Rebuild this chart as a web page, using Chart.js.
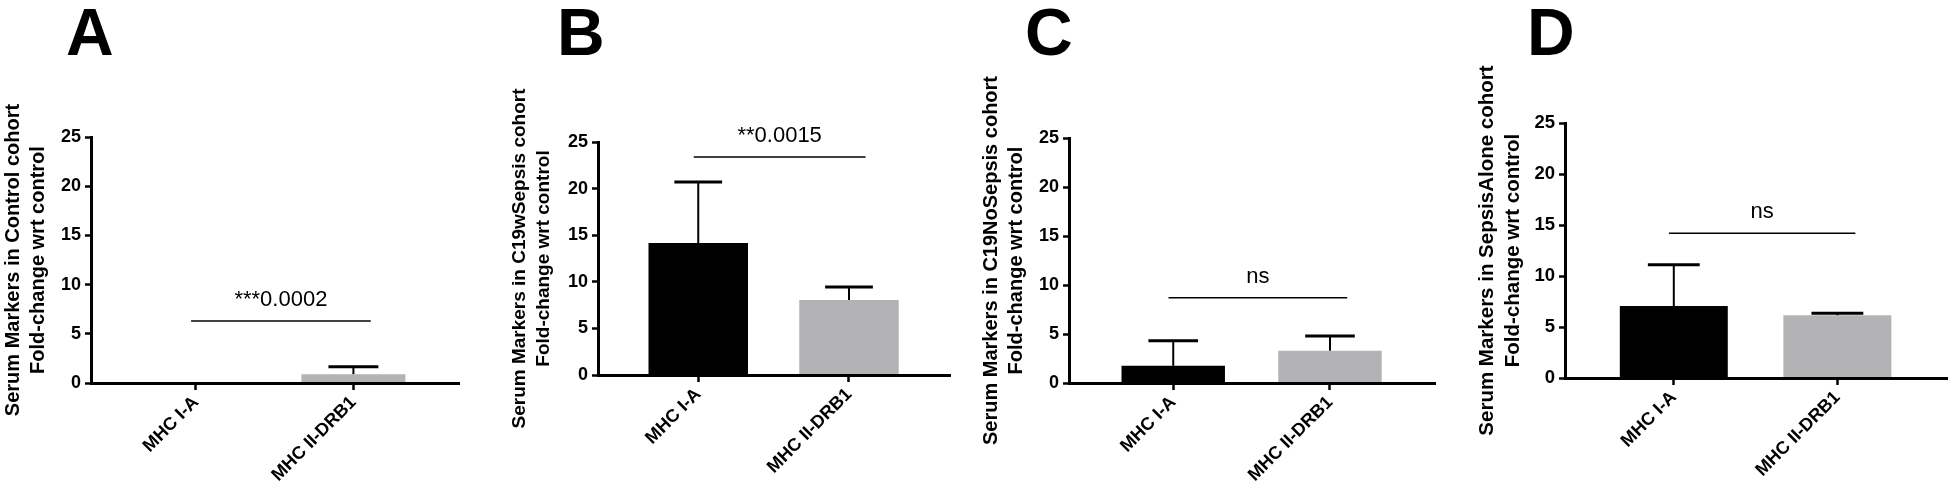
<!DOCTYPE html>
<html>
<head>
<meta charset="utf-8">
<title>Serum MHC markers by cohort</title>
<script src="https://cdn.jsdelivr.net/npm/chart.js@4.4.1/dist/chart.umd.min.js"></script>
<style>
  body { margin: 0; background: #fff; }
  #figure { position: relative; width: 1949px; height: 494px; }
  #figure canvas { position: absolute; left: 0; top: 0; }
</style>
</head>
<body>
<div id="figure">
  <canvas id="panelA" width="1949" height="494"></canvas>
  <canvas id="panelB" width="1949" height="494"></canvas>
  <canvas id="panelC" width="1949" height="494"></canvas>
  <canvas id="panelD" width="1949" height="494"></canvas>
</div>
<script>
// --- Values ---
const categories = ['MHC I-A', 'MHC II-DRB1'];
const panelLetters = ['A', 'B', 'C', 'D'];
const cohortTitles = [
    'Serum Markers in Control cohort',
    'Serum Markers in C19wSepsis cohort',
    'Serum Markers in C19NoSepsis cohort',
    'Serum Markers in SepsisAlone cohort'
];
const yTitleSecondLine = 'Fold-change wrt control';
const yTicks = [0, 5, 10, 15, 20, 25];

// mean fold-change and upper SD whisker for each category
const controlMeans = [0.05, 0.9];
const controlSD = [0, 0.75];
const c19wSepsisMeans = [14.15, 8.05];
const c19wSepsisSD = [6.55, 1.4];
const c19NoSepsisMeans = [1.75, 3.3];
const c19NoSepsisSD = [2.55, 1.5];
const sepsisAloneMeans = [7.05, 6.15];
const sepsisAloneSD = [4.05, 0.2];

// significance brackets
const sigLabels = ['***0.0002', '**0.0015', 'ns', 'ns'];
const sigHeights = [6.3, 23.4, 8.7, 14.2];

const allMeans = [controlMeans, c19wSepsisMeans, c19NoSepsisMeans, sepsisAloneMeans];
const allSD = [controlSD, c19wSepsisSD, c19NoSepsisSD, sepsisAloneSD];

// --- Where each panel sits on the page (pixels) ---
const panelBoxes = [
    { left: 91, top: 137, right: 459, bottom: 383, letterX: 66, titleSize: 20, tickSize: 18 },
    { left: 598, top: 142, right: 950, bottom: 375, letterX: 557, titleSize: 19, tickSize: 18 },
    { left: 1069, top: 138, right: 1435, bottom: 383, letterX: 1025, titleSize: 20, tickSize: 18 },
    { left: 1565, top: 123, right: 1947, bottom: 378, letterX: 1527, titleSize: 20.5, tickSize: 18.5 }
];

const FONT = '"Liberation Sans", Arial, Helvetica, sans-serif';
const PAGE_W = 1949, PAGE_H = 494;
const barColors = ['#000000', '#b3b3b6'];

// draws error whiskers, the significance line and the panel letter
const panelExtras = {
    id: 'panelExtras',
    afterDatasetsDraw(chart, args, opts) {
        const ctx = chart.ctx;
        const xScale = chart.scales.x;
        const yScale = chart.scales.y;
        const bars = chart.getDatasetMeta(0).data;
        ctx.save();
        ctx.strokeStyle = '#000';
        ctx.fillStyle = '#000';

        bars.forEach((bar, i) => {
            const sd = opts.sd[i];
            if (!sd) return;
            const yTop = yScale.getPixelForValue(opts.means[i] + sd);
            const half = bar.width * 0.24;
            ctx.lineWidth = 2;
            ctx.beginPath();
            ctx.moveTo(bar.x, bar.y);
            ctx.lineTo(bar.x, yTop);
            ctx.stroke();
            ctx.lineWidth = 3;
            ctx.beginPath();
            ctx.moveTo(bar.x - half, yTop);
            ctx.lineTo(bar.x + half, yTop);
            ctx.stroke();
        });

        const sy = yScale.getPixelForValue(opts.sigHeight);
        const x1 = xScale.getPixelForValue(-0.03);
        const x2 = xScale.getPixelForValue(1.11);
        ctx.lineWidth = 1.5;
        ctx.beginPath();
        ctx.moveTo(x1, sy);
        ctx.lineTo(x2, sy);
        ctx.stroke();
        ctx.font = '22px ' + FONT;
        ctx.textAlign = 'center';
        ctx.textBaseline = 'alphabetic';
        ctx.fillText(opts.sigLabel, (x1 + x2) / 2, sy - 15);

        ctx.font = 'bold 66px ' + FONT;
        ctx.textAlign = 'left';
        ctx.fillText(opts.letter, opts.letterX, 55);
        ctx.restore();
    }
};

panelLetters.forEach((letter, p) => {
    const box = panelBoxes[p];
    const means = allMeans[p];
    const canvas = document.getElementById('panel' + letter);

    new Chart(canvas, {
        type: 'bar',
        data: {
            datasets: [{
                data: means.map((m, i) => ({ x: i, y: m })),
                backgroundColor: barColors,
                borderWidth: 0,
                barPercentage: 0.66,
                categoryPercentage: 1
            }]
        },
        options: {
            responsive: false,
            animation: false,
            devicePixelRatio: 1,
            layout: {
                padding: { left: box.left - 90, top: box.top, right: PAGE_W - box.right, bottom: 0 }
            },
            scales: {
                x: {
                    type: 'linear',
                    min: -0.665,
                    max: 1.67,
                    offset: false,
                    bounds: 'data',
                    afterBuildTicks: (axis) => { axis.ticks = categories.map((c, i) => ({ value: i })); },
                    afterFit: (axis) => { axis.height = PAGE_H - box.bottom; },
                    grid: { offset: false, drawOnChartArea: false, drawTicks: true, tickLength: 7, tickWidth: 2.5, tickColor: '#000' },
                    border: { display: true, color: '#000', width: 3, z: 1 },
                    ticks: {
                        autoSkip: false,
                        minRotation: 45,
                        maxRotation: 45,
                        padding: 2,
                        color: '#000',
                        font: { family: FONT, size: 18, weight: 'bold' },
                        callback: (value) => categories[value]
                    }
                },
                y: {
                    min: yTicks[0],
                    max: yTicks[yTicks.length - 1],
                    afterBuildTicks: (axis) => { axis.ticks = yTicks.map(v => ({ value: v })); },
                    afterFit: (axis) => { axis.width = 90; },
                    grid: { drawOnChartArea: false, drawTicks: true, tickLength: 6, tickWidth: 2.5, tickColor: '#000' },
                    border: { display: true, color: '#000', width: 3, z: 1 },
                    ticks: {
                        padding: 4,
                        color: '#000',
                        font: { family: FONT, size: box.tickSize, weight: 'bold' }
                    },
                    title: {
                        display: true,
                        text: [cohortTitles[p], yTitleSecondLine],
                        color: '#000',
                        padding: { top: 0, bottom: 0 },
                        font: { family: FONT, size: box.titleSize, weight: 'bold', lineHeight: 1.25 }
                    }
                }
            },
            plugins: {
                legend: { display: false },
                tooltip: { enabled: false },
                panelExtras: {
                    means: means,
                    sd: allSD[p],
                    sigLabel: sigLabels[p],
                    sigHeight: sigHeights[p],
                    letter: letter,
                    letterX: box.letterX
                }
            }
        },
        plugins: [panelExtras]
    });
});
</script>
</body>
</html>
